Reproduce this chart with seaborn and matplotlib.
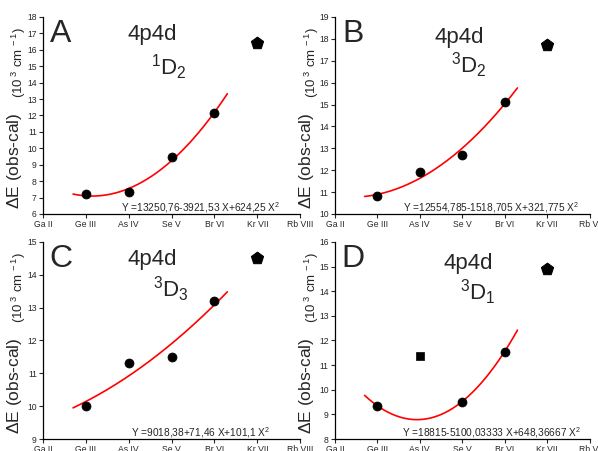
import numpy as np
import pandas as pd
import matplotlib
matplotlib.use('Agg')
import matplotlib.pyplot as plt
import seaborn as sns

# x axis: isoelectronic ions, Ga II .. Rb (X = 2 .. 8 in the fit)
ions_ac = ['Ga II', 'Ge III', 'As IV', 'Se V', 'Br VI', 'Kr VII', 'Rb VIII']
ions_bd = ['Ga II', 'Ge III', 'As IV', 'Se V', 'Br VI', 'Kr VII', 'Rb VI']
first_x = 2

# points used in the fit (10^3 cm-1)
fit_ions = ['Ge III', 'As IV', 'Se V', 'Br VI']
a_fit = [7.2, 7.35, 9.45, 12.15]
b_fit = [10.8, 11.9, 12.7, 15.1]
c_fit = [10.0, 11.3, 11.5, 13.2]
d_fit = [9.35, 9.5, 11.55]
d_fit_ions = ['Ge III', 'Se V', 'Br VI']

# Kr VII (predicted) and the As IV outlier in D
kr_values = [16.4, 17.7, 14.5, 14.9]
d_outlier = 11.35

# fit coefficients (cm-1): Y = c0 + c1 X + c2 X^2
a_coef = [13250.76, -3921.53, 624.25]
b_coef = [12554.785, -1518.705, 321.775]
c_coef = [9018.38, 71.46, 101.1]
d_coef = [18815, -5100.03333, 648.36667]
fit_range = [2.7, 6.3]

a_eq = 'Y =13250,76-3921,53 X+624,25 X$^2$'
b_eq = 'Y =12554,785-1518,705 X+321,775 X$^2$'
c_eq = 'Y =9018,38+71,46 X+101,1 X$^2$'
d_eq = 'Y =18815-5100,03333 X+648,36667 X$^2$'

letters = ['A', 'B', 'C', 'D']
terms = [r'$^{1}$D$_{2}$', r'$^{3}$D$_{2}$', r'$^{3}$D$_{3}$', r'$^{3}$D$_{1}$']
y_ranges = [(6, 18), (10, 19), (9, 15), (8, 16)]

sns.set_style('ticks')
plt.rcParams['font.family'] = ['Liberation Sans', 'DejaVu Sans']
plt.rcParams['mathtext.fontset'] = 'custom'
plt.rcParams['mathtext.rm'] = 'Liberation Sans'
plt.rcParams['mathtext.it'] = 'Liberation Sans:italic'
plt.rcParams['mathtext.bf'] = 'Liberation Sans:bold'

fig = plt.figure(figsize=(5.98, 4.51), dpi=100)
boxes = [[0.072, 0.5255, 0.43, 0.437], [0.560, 0.5255, 0.426, 0.437],
         [0.072, 0.0266, 0.43, 0.437], [0.560, 0.0266, 0.426, 0.437]]

panels = [
    (ions_ac, fit_ions, a_fit, a_coef, a_eq),
    (ions_bd, fit_ions, b_fit, b_coef, b_eq),
    (ions_ac, fit_ions, c_fit, c_coef, c_eq),
    (ions_bd, d_fit_ions, d_fit, d_coef, d_eq),
]
# text placement (axes fractions): 4p4d, term
head_pos = [(0.424, 0.909), (0.49, 0.898), (0.424, 0.909), (0.525, 0.888)]
term_pos = [(0.49, 0.746), (0.525, 0.756), (0.498, 0.761), (0.56, 0.746)]


def ion_x(labels, names):
    return [first_x + labels.index(n) for n in names]


for i, (labels, names, vals, coef, eq) in enumerate(panels):
    ax = fig.add_axes(boxes[i])
    pts = pd.DataFrame({'x': ion_x(labels, names), 'y': vals})
    sns.scatterplot(data=pts, x='x', y='y', ax=ax, color='black', s=42,
                    marker='o', edgecolor='black', zorder=3)
    kr = pd.DataFrame({'x': ion_x(labels, ['Kr VII']), 'y': [kr_values[i]]})
    sns.scatterplot(data=kr, x='x', y='y', ax=ax, color='black', s=85,
                    marker='p', edgecolor='black', zorder=3)
    if i == 3:
        sq = pd.DataFrame({'x': ion_x(labels, ['As IV']), 'y': [d_outlier]})
        sns.scatterplot(data=sq, x='x', y='y', ax=ax, color='black', s=38,
                        marker='s', edgecolor='black', zorder=3)

    xs = np.linspace(fit_range[0], fit_range[1], 200)
    ys = (coef[0] + coef[1] * xs + coef[2] * xs ** 2) / 1000
    sns.lineplot(x=xs, y=ys, ax=ax, color='red', linewidth=1.2, zorder=2)

    ax.set_xlim(first_x, first_x + len(labels) - 1)
    ax.set_xticks(range(first_x, first_x + len(labels)))
    ax.set_xticklabels(labels)
    lo, hi = y_ranges[i]
    ax.set_ylim(lo, hi)
    ax.set_yticks(range(lo, hi + 1))
    ax.tick_params(direction='out', length=3, width=0.8, labelsize=6.2, pad=1.5)
    ax.set_xlabel('')
    ax.set_ylabel('')
    for sp in ['top', 'right']:
        ax.spines[sp].set_visible(False)
    for sp in ['left', 'bottom']:
        ax.spines[sp].set_linewidth(0.9)
        ax.spines[sp].set_color('black')

    ax.text(0.07, 0.914, letters[i], transform=ax.transAxes, fontsize=23,
            ha='center', va='center')
    ax.text(*head_pos[i], '4p4d', transform=ax.transAxes, fontsize=16,
            ha='center', va='center')
    ax.text(*term_pos[i], terms[i], transform=ax.transAxes, fontsize=16,
            ha='center', va='center')
    ax.text(0.615, 0.035, eq, transform=ax.transAxes, fontsize=7.3,
            ha='center', va='center')
    ax.text(-0.112, 0.27, r'$\Delta$E (obs-cal)', transform=ax.transAxes,
            fontsize=12.5, rotation=90, ha='center', va='center', clip_on=False)
    ax.text(-0.092, 0.77, r'(10$^{\ 3}$ cm$^{\ -1}$)', transform=ax.transAxes,
            fontsize=9.5, rotation=90, ha='center', va='center', clip_on=False)

fig.savefig('out.png', dpi=100)
